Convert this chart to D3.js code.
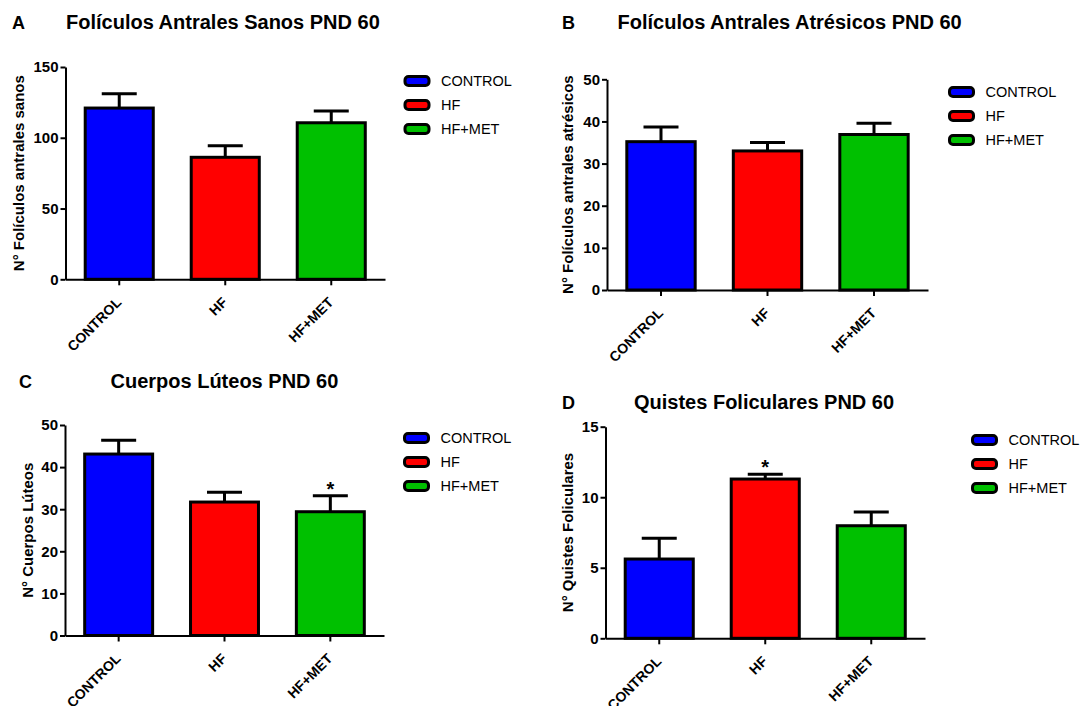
<!DOCTYPE html>
<meta charset="utf-8">
<style>
  body { margin: 0; background: #fff; }
  svg { font-family: "Liberation Sans", Arial, sans-serif; }
  .axis path, .axis line { stroke: #000; stroke-width: 2; }
  .axis text { font-size: 15px; font-weight: bold; fill: #000; }
  .xaxis text { font-size: 14px; }
</style>
<div id="chart"></div>
<script src="https://d3js.org/d3.v7.min.js"></script>
<script>
// groups shared by all four panels
var categories = ["CONTROL", "HF", "HF+MET"];
var colors = ["#0000ff", "#ff0000", "#00c000"];

// A - healthy antral follicles
var meanA = [121.0, 86.2, 110.6];
var semA = [10.1, 8.2, 8.3];
var ticksA = [0, 50, 100, 150];
// B - atretic antral follicles
var meanB = [35.2, 33.0, 36.9];
var semB = [3.5, 2.0, 2.7];
var ticksB = [0, 10, 20, 30, 40, 50];
// C - corpora lutea
var meanC = [43.1, 31.7, 29.4];
var semC = [3.3, 2.3, 3.8];
var ticksC = [0, 10, 20, 30, 40, 50];
var starsC = ["", "", "*"];
// D - follicular cysts
var meanD = [5.62, 11.29, 7.98];
var semD = [1.47, 0.34, 0.97];
var ticksD = [0, 5, 10, 15];
var starsD = ["", "*", ""];

var svg = d3.select("#chart").append("svg")
    .attr("width", 1081)
    .attr("height", 706);

var panels = [
  {letter: "A", title: "Folículos Antrales Sanos PND 60", ylab: "N° Folículos antrales sanos",
   mean: meanA, sem: semA, ticks: ticksA, stars: null,
   x0: 65.5, x1: 385, yTop: 67, yBot: 279.3, labX: 18.5, letterX: 12, titleX: 66, titleY: 29, legX: 405, legY: 81},
  {letter: "B", title: "Folículos Antrales Atrésicos PND 60", ylab: "N° Folículos antrales atrésicos",
   mean: meanB, sem: semB, ticks: ticksB, stars: null,
   x0: 607, x1: 928, yTop: 79.3, yBot: 290, labX: 568, letterX: 562, titleX: 617.5, titleY: 29, legX: 949.5, legY: 92},
  {letter: "C", title: "Cuerpos Lúteos PND 60", ylab: "N° Cuerpos Lúteos",
   mean: meanC, sem: semC, ticks: ticksC, stars: starsC,
   x0: 65, x1: 384, yTop: 425, yBot: 635.5, labX: 28, letterX: 19, titleX: 110.5, titleY: 388, legX: 404.5, legY: 438},
  {letter: "D", title: "Quistes Foliculares PND 60", ylab: "N° Quistes Foliculares",
   mean: meanD, sem: semD, ticks: ticksD, stars: starsD,
   x0: 605.5, x1: 925, yTop: 426.7, yBot: 638.3, labX: 567.5, letterX: 562, titleX: 634, titleY: 409, legX: 972.5, legY: 440}
];

panels.forEach(function(p) {
  var g = svg.append("g");

  var x = d3.scaleBand()
      .domain(categories)
      .range([p.x0, p.x1])
      .paddingInner(0.358)
      .paddingOuter(0.186);

  var y = d3.scaleLinear()
      .domain([0, d3.max(p.ticks)])
      .range([p.yBot, p.yTop]);

  var rows = categories.map(function(c, i) {
    return {cat: c, mean: p.mean[i], sem: p.sem[i], color: colors[i], star: p.stars ? p.stars[i] : ""};
  });

  // bars
  g.selectAll(".bar")
    .data(rows)
    .enter().append("rect")
      .attr("x", d => x(d.cat))
      .attr("y", d => y(d.mean))
      .attr("width", x.bandwidth())
      .attr("height", d => y(0) - y(d.mean))
      .style("fill", d => d.color)
      .style("stroke", "#000")
      .style("stroke-width", 3);

  // upper error bars only
  var cap = 17.5;
  g.selectAll(".err")
    .data(rows)
    .enter().append("path")
      .attr("d", function(d) {
        var cx = x(d.cat) + x.bandwidth() / 2;
        return "M" + cx + "," + y(d.mean) + "V" + y(d.mean + d.sem) +
               "M" + (cx - cap) + "," + y(d.mean + d.sem) + "H" + (cx + cap);
      })
      .style("stroke", "#000")
      .style("stroke-width", 3)
      .style("fill", "none");

  g.selectAll(".star")
    .data(rows.filter(d => d.star))
    .enter().append("text")
      .attr("x", d => x(d.cat) + x.bandwidth() / 2)
      .attr("y", d => y(d.mean + d.sem))
      .attr("text-anchor", "middle")
      .attr("font-size", "20px")
      .attr("font-weight", "bold")
      .text(d => d.star);

  // axes
  g.append("g")
    .attr("class", "axis")
    .attr("transform", "translate(" + p.x0 + ",0)")
    .call(d3.axisLeft(y).tickValues(p.ticks).tickSize(5).tickSizeOuter(0).tickPadding(2));

  var xa = g.append("g")
    .attr("class", "axis xaxis")
    .attr("transform", "translate(0," + p.yBot + ")")
    .call(d3.axisBottom(x).tickSize(6).tickSizeOuter(0));

  xa.selectAll("text")
    .attr("text-anchor", "end")
    .attr("y", 0)
    .attr("dy", 0)
    .attr("transform", "translate(3,24) rotate(-45)");

  // titles
  g.append("text")
    .attr("x", p.letterX)
    .attr("y", p.titleY)
    .attr("font-size", "18px")
    .attr("font-weight", "bold")
    .text(p.letter);

  g.append("text")
    .attr("x", p.titleX)
    .attr("y", p.titleY)
    .attr("font-size", "20px")
    .attr("font-weight", "bold")
    .text(p.title);

  g.append("text")
    .attr("transform", "translate(" + p.labX + "," + ((p.yTop + p.yBot) / 2) + ") rotate(-90)")
    .attr("text-anchor", "middle")
    .attr("dy", "0.36em")
    .attr("font-size", "15px")
    .attr("font-weight", "bold")
    .text(p.ylab);

  // legend
  var leg = g.selectAll(".legend")
    .data(rows)
    .enter().append("g")
      .attr("transform", (d, i) => "translate(" + p.legX + "," + (p.legY + 24 * i) + ")");

  leg.append("rect")
    .attr("x", 0)
    .attr("y", -4.5)
    .attr("width", 24)
    .attr("height", 9)
    .attr("rx", 3.5)
    .style("fill", d => d.color)
    .style("stroke", "#000")
    .style("stroke-width", 3);

  leg.append("text")
    .attr("x", 36)
    .attr("dy", "0.36em")
    .attr("font-size", "14.5px")
    .text(d => d.cat);
});
</script>
